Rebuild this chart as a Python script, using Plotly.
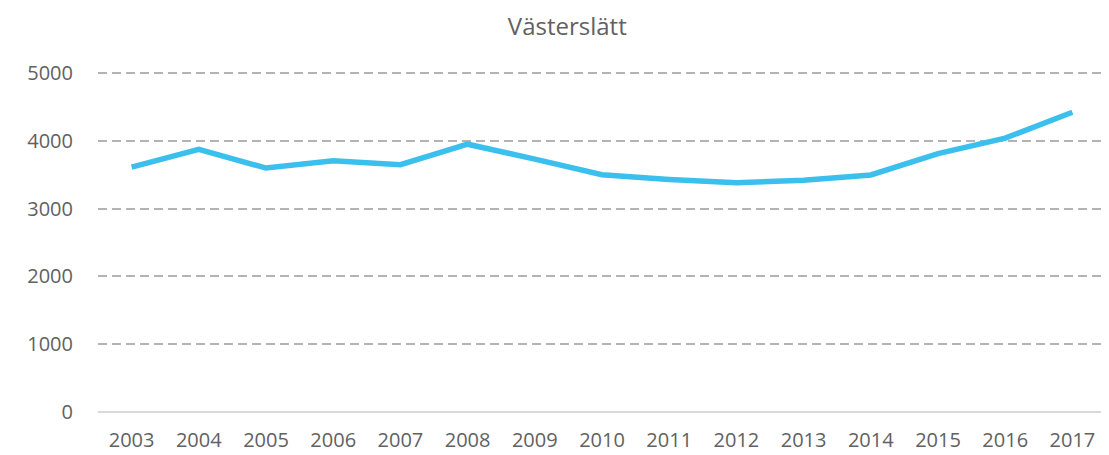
import plotly.graph_objects as go

years = ["2003","2004","2005","2006","2007","2008","2009","2010","2011","2012","2013","2014","2015","2016","2017"]
values = [3613, 3875, 3598, 3706, 3647, 3950, 3730, 3500, 3431, 3382, 3420, 3497, 3812, 4040, 4422]
title = "Västerslätt"

fig = go.Figure()
fig.add_trace(go.Scatter(x=years, y=values, mode="lines",
                         line=dict(color="#3BC0EE", width=5.5), hoverinfo="skip"))

fig.update_layout(
    width=1101, height=447,
    margin=dict(l=90, r=3, t=64, b=43, autoexpand=False),
    paper_bgcolor="white", plot_bgcolor="white",
    showlegend=False,
    title=dict(text=title, x=0.508, xanchor="center", y=0.958, yanchor="middle",
               font=dict(family="Open Sans", size=24, color="#616161")),
    font=dict(family="Open Sans", size=20, color="#616161"),
)
fig.update_xaxes(type="category", range=[-0.5, 14.5], showgrid=False, automargin=False,
                 showline=False, ticks="", ticklabelstandoff=14,
                 tickfont=dict(size=20, color="#616161"))
fig.update_yaxes(range=[0, 5015], tickvals=[0,1000,2000,3000,4000,5000], automargin=False,
                 showgrid=True, gridcolor="#B3B3B3", griddash="9px,5px", gridwidth=1.5,
                 zeroline=True, zerolinecolor="#D9D9D9", zerolinewidth=1.5,
                 showline=False, ticks="", ticklabelstandoff=24,
                 tickfont=dict(size=20, color="#616161"))

fig.write_html("out.html")
